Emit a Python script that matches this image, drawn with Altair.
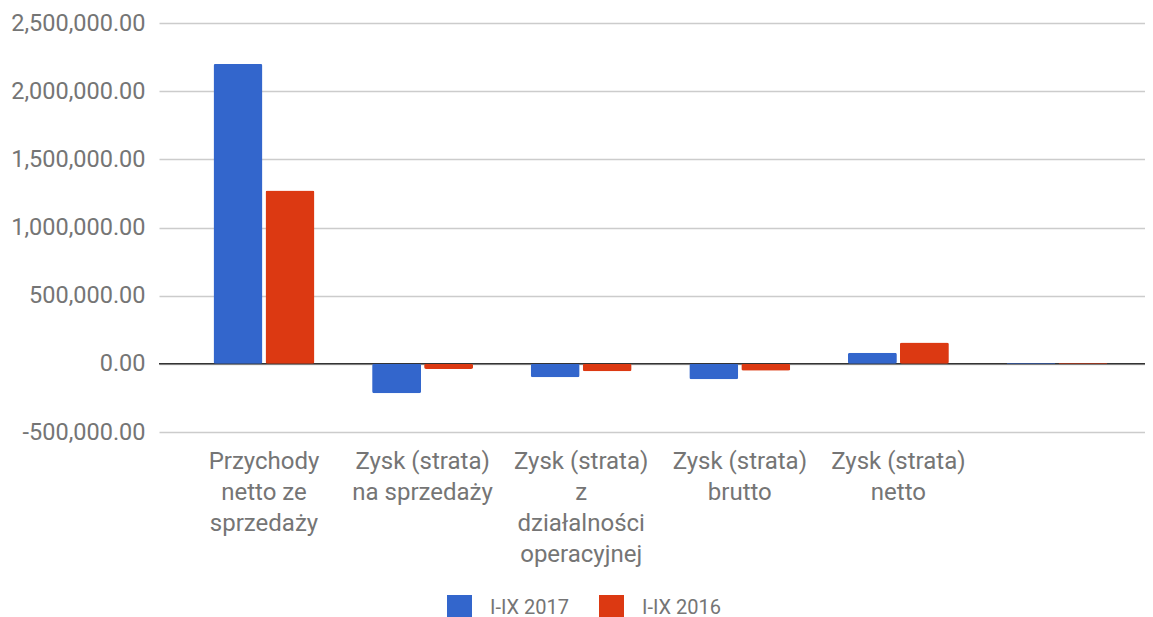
import altair as alt
import pandas as pd

categories = [
    "Przychody\nnetto ze\nsprzedaży",
    "Zysk (strata)\nna sprzedaży",
    "Zysk (strata)\nz\ndziałalności\noperacyjnej",
    "Zysk (strata)\nbrutto",
    "Zysk (strata)\nnetto",
    " ",
]
series_names = ["I-IX 2017", "I-IX 2016"]
values_2017 = [2200000, -216000, -98000, -113000, 81000, 7000]
values_2016 = [1272000, -37000, -54000, -51000, 156000, 7000]
y_ticks = [-500000, 0, 500000, 1000000, 1500000, 2000000, 2500000]
colors = ["#3366cc", "#dc3912"]

rows = []
for c, v in zip(categories, values_2017):
    rows.append({"cat": c, "series": series_names[0], "value": v})
for c, v in zip(categories, values_2016):
    rows.append({"cat": c, "series": series_names[1], "value": v})
df = pd.DataFrame(rows)

FONT = "Roboto"
GREY = "#757575"

y_scale = alt.Scale(domain=[-500000, 2500000], nice=False, zero=False)

bars = alt.Chart(df).mark_bar(cornerRadius=2).encode(
    x=alt.X(
        "cat:N",
        sort=categories,
        title=None,
        scale=alt.Scale(paddingInner=0, paddingOuter=0.1085, align=0.747),
        axis=alt.Axis(
            labelExpr="split(datum.label, '\\n')",
            labelAngle=0,
            labelFont=FONT,
            labelFontSize=24,
            labelColor=GREY,
            labelLineHeight=31,
            labelPadding=17,
            labelBaseline="top",
            labelAlign="center",
            ticks=False,
            domain=False,
            grid=False,
            labelLimit=300,
        ),
    ),
    xOffset=alt.XOffset(
        "series:N",
        sort=series_names,
        scale=alt.Scale(paddingInner=0.0577, paddingOuter=0.554),
    ),
    y=alt.Y(
        "value:Q",
        scale=y_scale,
        title=None,
        axis=alt.Axis(
            values=y_ticks,
            labelExpr="replace(format(datum.value, ',.2f'), '\u2212', '-')",
            labelFont=FONT,
            labelFontSize=23.5,
            labelColor=GREY,
            labelPadding=14,
            ticks=False,
            domain=False,
            grid=True,
            gridColor="#cccccc",
            gridWidth=1.5,
        ),
    ),
    color=alt.Color(
        "series:N",
        sort=series_names,
        scale=alt.Scale(domain=series_names, range=colors),
        legend=alt.Legend(
            title=None,
            orient="none",
            direction="horizontal",
            legendX=288,
            legendY=572,
            symbolType="square",
            symbolSize=625,
            symbolStrokeWidth=0,
            symbolOpacity=1,
            labelFont=FONT,
            labelFontSize=20,
            labelColor=GREY,
            labelOffset=18,
            columnPadding=29,
        ),
    ),
)

zero = alt.Chart(pd.DataFrame({"z": [0]})).mark_rule(color="#333333", strokeWidth=1.5).encode(
    y=alt.Y("z:Q", scale=y_scale)
)

chart = (
    alt.layer(zero, bars)
    .properties(
        width=986,
        height=409,
        autosize=alt.AutoSizeParams(type="none"),
        padding={"left": 151, "top": 15, "right": 0, "bottom": 185},
    )
    .configure_view(stroke=None)
)

chart.save("out.html", embed_options={"renderer": "svg", "actions": False})
